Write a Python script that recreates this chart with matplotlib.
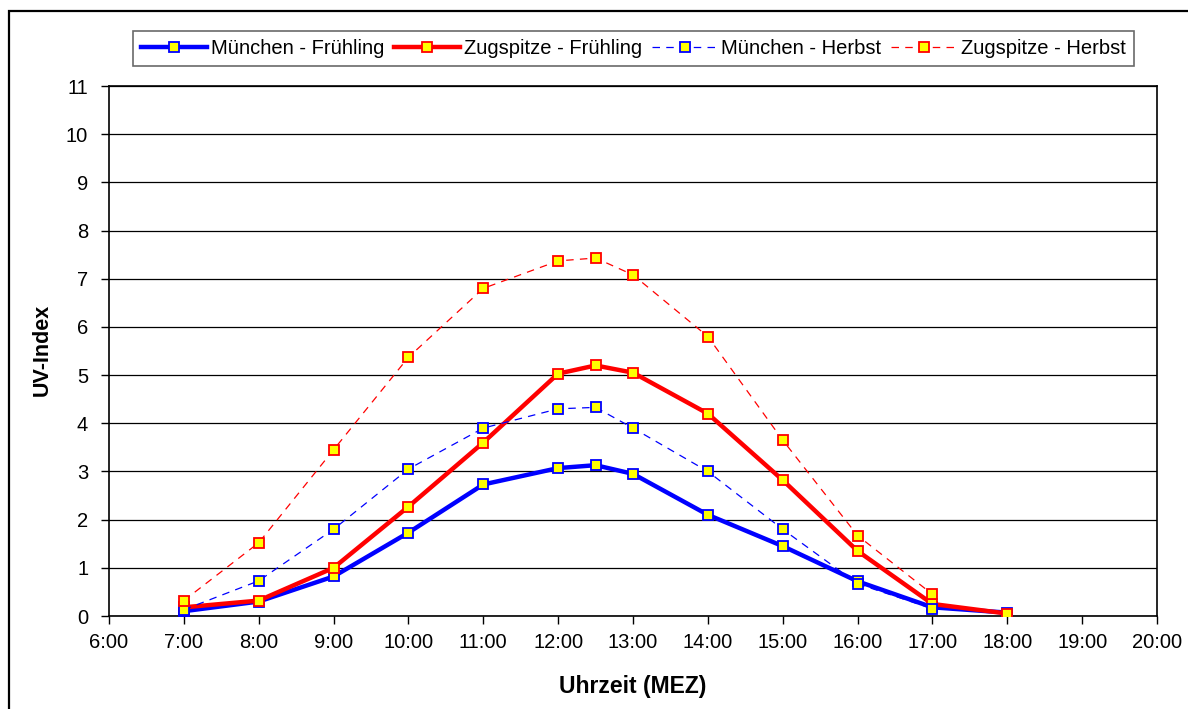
import matplotlib
matplotlib.use("Agg")
import matplotlib.pyplot as plt
from matplotlib.patches import Rectangle

plt.rcParams['font.family'] = ['Liberation Sans', 'DejaVu Sans']

hours = [7, 8, 9, 10, 11, 12, 12.5, 13, 14, 15, 16, 17, 18]
muc_fruehling = [0.10, 0.30, 0.82, 1.73, 2.73, 3.07, 3.13, 2.95, 2.10, 1.45, 0.72, 0.18, 0.07]
zug_fruehling = [0.18, 0.32, 1.00, 2.27, 3.60, 5.03, 5.20, 5.05, 4.20, 2.82, 1.35, 0.25, 0.05]
hours_herbst = [7, 8, 9, 10, 11, 12, 12.5, 13, 14, 15, 16, 17]
muc_herbst = [0.13, 0.73, 1.80, 3.05, 3.90, 4.30, 4.33, 3.90, 3.00, 1.80, 0.67, 0.15]
zug_herbst = [0.32, 1.52, 3.45, 5.37, 6.80, 7.37, 7.43, 7.08, 5.80, 3.65, 1.67, 0.45]

x_ticks = list(range(6, 21))
x_ticklabels = [f"{h}:00" for h in x_ticks]
y_ticks = list(range(0, 12))

fig = plt.figure(figsize=(11.88, 7.09), dpi=100)
ax = fig.add_axes([109/1188, 1-616/709, (1157-109)/1188, (616-86)/709])

# outer frame
fig.patches.append(Rectangle((9/1188, -0.05), 1.2, 1-11/709+0.05, transform=fig.transFigure,
                             fill=False, edgecolor='black', linewidth=1.6, zorder=0))

mk = dict(marker='s', markersize=7.5, markerfacecolor='#ffff00', markeredgewidth=1.3)
ax.plot(hours, muc_fruehling, color='#0000ff', linewidth=3.2, markeredgecolor='#0000ff',
        label='München - Frühling', **mk, zorder=3)
ax.plot(hours, zug_fruehling, color='#ff0000', linewidth=3.2, markeredgecolor='#ff0000',
        label='Zugspitze - Frühling', **mk, zorder=4)
ax.plot(hours_herbst, muc_herbst, color='#0000ff', linewidth=0.9, linestyle=(0, (6, 5)),
        markeredgecolor='#0000ff', label='München - Herbst', **mk, zorder=5)
ax.plot(hours_herbst, zug_herbst, color='#ff0000', linewidth=0.9, linestyle=(0, (6, 5)),
        markeredgecolor='#ff0000', label='Zugspitze - Herbst', **mk, zorder=6)

ax.set_xlim(6, 20)
ax.set_ylim(0, 11)
ax.set_xticks(x_ticks)
ax.set_xticklabels(x_ticklabels)
ax.set_yticks(y_ticks)
ax.yaxis.grid(True, color='black', linewidth=0.9)
ax.set_axisbelow(True)
for s in ax.spines.values():
    s.set_linewidth(1.2)
    s.set_color('black')
ax.tick_params(axis='both', direction='out', length=6, width=1, labelsize=14.5, colors='black', pad=6)
ax.tick_params(axis='y', pad=9)

ax.set_xlabel('Uhrzeit (MEZ)', fontsize=16.5, fontweight='bold')
ax.set_ylabel('UV-Index', fontsize=15.5, fontweight='bold')
ax.xaxis.set_label_coords((633-109)/1048, (616-686)/530)
ax.yaxis.set_label_coords((42-109)/1048, (616-350)/530)
ax.xaxis.label.set_va('center')
ax.yaxis.label.set_va('center')

leg = fig.legend(loc='center', bbox_to_anchor=(633.5/1188, 1-48.5/709), ncol=4, fontsize=14.5,
                 frameon=True, fancybox=False, edgecolor='#444444', handlelength=3.25,
                 handletextpad=0.2, columnspacing=0.5, borderpad=0.4, borderaxespad=0)
leg.get_frame().set_linewidth(1.2)

fig.savefig('out.png', dpi=100)
